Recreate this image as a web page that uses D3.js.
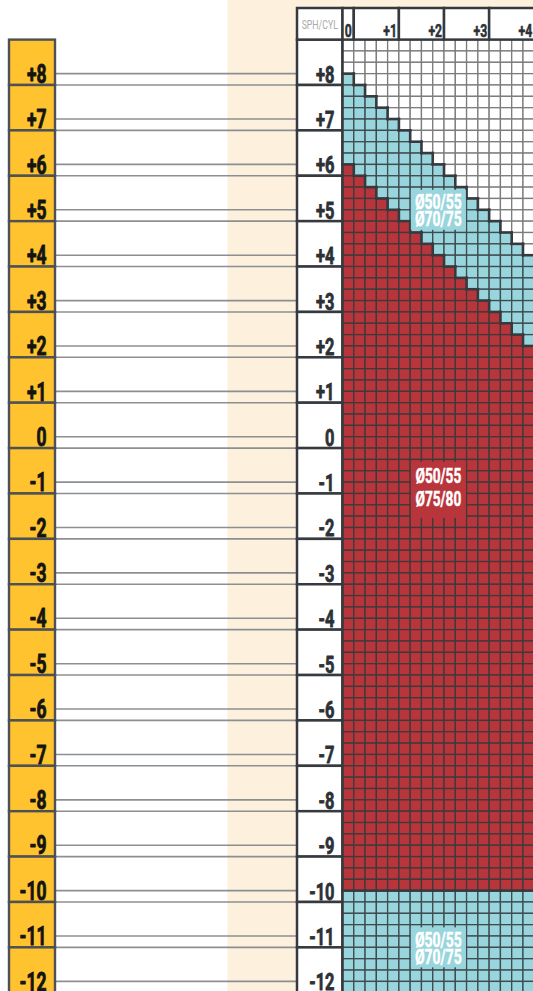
<!DOCTYPE html>
<html><head><meta charset="utf-8">
<script src="https://cdn.jsdelivr.net/npm/d3@7"></script>
<style>html,body{margin:0;padding:0;background:#fff;overflow:hidden;} svg{display:block;}</style>
</head><body><svg id="c" width="533" height="991"></svg>
<script>
// ---------- DATA ----------
const sphLabels = ["+8","+7","+6","+5","+4","+3","+2","+1","0","-1","-2","-3","-4","-5","-6","-7","-8","-9","-10","-11","-12"];
const sphValues = [8,7,6,5,4,3,2,1,0,-1,-2,-3,-4,-5,-6,-7,-8,-9,-10,-11,-12];
const cylLabels = ["0","+1","+2","+3","+4"];
const cylValues = [0,1,2,3,4];
// grid columns (cylinder in 0.25 steps)
const cylSteps = [0,0.25,0.5,0.75,1,1.25,1.5,1.75,2,2.25,2.5,2.75,3,3.25,3.5,3.75,4];
// highest sphere available in the Ø50/55 Ø70/75 zone, per column
const blueTopSph = [8,7.75,7.5,7.25,7,6.75,6.5,6.25,6,5.75,5.5,5.25,5,4.75,4.5,4.25,4];
// highest sphere available in the Ø50/55 Ø75/80 zone, per column
const redTopSph = [6,5.75,5.5,5.25,5,4.75,4.5,4.25,4,3.75,3.5,3.25,3,2.75,2.5,2.25,2];
// lowest sphere of the Ø50/55 Ø75/80 zone, per column
const redBottomSph = [-9.75,-9.75,-9.75,-9.75,-9.75,-9.75,-9.75,-9.75,-9.75,-9.75,-9.75,-9.75,-9.75,-9.75,-9.75,-9.75,-9.75];
// lowest sphere drawn of the lower Ø50/55 Ø70/75 zone
const blueBottomSph = [-12.25,-12.25,-12.25,-12.25,-12.25,-12.25,-12.25,-12.25,-12.25,-12.25,-12.25,-12.25,-12.25,-12.25,-12.25,-12.25,-12.25];
const zoneLabelLines = [["Ø50/55","Ø70/75"],["Ø50/55","Ø75/80"],["Ø50/55","Ø70/75"]];
const zoneLabelZone = ["blue","red","blue"];
const zoneLabelCyl = [2.125,2.125,2.125];
const zoneLabelSph = [5.0,-1.17,-11.25];

// ---------- LAYOUT ----------
const W = 533, H = 991;
const STEP = 0.25;
const gridTopSph = 8.75, gridBottomSph = -12.25;
const gridX0 = 342.5, cellW = 11.28;
const gridY0 = 39.6, cellH = 11.347;
const C = {
  beige:"#fdf0dc", yellow:"#fec32f", dark:"#363a3e", guide:"#8c8f92",
  red:"#b9353c", redLine:"#3e3a3a", blue:"#98d5dc", blueLine:"#3e4b50",
  white:"#ffffff", whiteLine:"#7c7c7c", labelDark:"#2d3135", header:"#aaaaaa"
};
const FONT = "Roboto, 'Liberation Sans', Arial, sans-serif";

const x = d3.scaleLinear().domain([0, STEP]).range([gridX0, gridX0 + cellW]);
const y = d3.scaleLinear().domain([gridTopSph, gridTopSph - STEP]).range([gridY0, gridY0 + cellH]);

const svg = d3.select("#c");

function ctext(sel, px, py, txt, o) {
  const g = sel.append("g").attr("transform", `translate(${px},${py}) scale(${o.sx},1)`);
  const t = g.append("text").attr("x",0).attr("y",0)
    .attr("text-anchor", o.anchor || "middle")
    .attr("font-family", FONT).attr("font-weight", o.weight || 700)
    .attr("font-size", o.size).attr("fill", o.fill);
  if (o.thick) t.attr("stroke", o.fill).attr("stroke-width", o.thick).attr("stroke-linejoin","round");
  if (Array.isArray(txt)) {
    txt.forEach((line, i) => t.append("tspan").attr("x",0).attr("y", o.lineY[i]).text(line));
  } else t.text(txt);
  return g;
}

// beige band / background
svg.append("rect").attr("x",227.5).attr("y",0).attr("width",W-227.5).attr("height",H).attr("fill",C.beige);

// guide lines (top and bottom of each whole-diopter row)
const guides = svg.append("g");
sphValues.forEach(s => {
  [y(s), y(s - STEP)].forEach(yy => {
    guides.append("line").attr("x1",55).attr("x2",297).attr("y1",yy).attr("y2",yy)
      .attr("stroke",C.guide).attr("stroke-width",1.6);
  });
});

// yellow sphere column
const yel = svg.append("g");
sphValues.forEach((s,i) => {
  const top = y(s + 0.75), bot = y(s - STEP);
  yel.append("rect").attr("x",9).attr("y",top).attr("width",46).attr("height",bot-top)
    .attr("fill",C.yellow).attr("stroke","#4d5155").attr("stroke-width",2.4);
  ctext(yel, 46.5, bot - 2.2, sphLabels[i], {size:25, sx:0.7, anchor:"end", fill:"#141414", thick:0.9});
});

// sphere label column next to grid
const sc = svg.append("g");
sphValues.forEach((s,i) => {
  const top = y(s + 0.75), bot = y(s - STEP);
  sc.append("rect").attr("x",297).attr("y",top).attr("width",gridX0-297).attr("height",bot-top)
    .attr("fill","#fff").attr("stroke",C.dark).attr("stroke-width",2.5);
  ctext(sc, 334.5, bot - 2.4, sphLabels[i], {size:23.5, sx:0.7, anchor:"end", fill:C.labelDark, thick:0.8});
});

// grid cells
const rowsSph = d3.range(Math.round((gridTopSph - gridBottomSph)/STEP) + 1).map(k => gridTopSph - k*STEP);
function cat(j, s) {
  if (j < 0 || j >= cylSteps.length) return "none";
  if (s > gridTopSph + 1e-9 || s < gridBottomSph - 1e-9) return "none";
  if (s > blueTopSph[j] + 1e-9) return "white";
  if (s > redTopSph[j] + 1e-9) return "blue";
  if (s >= redBottomSph[j] - 1e-9) return "red";
  if (s >= blueBottomSph[j] - 1e-9) return "blue";
  return "white";
}
const cells = [];
cylSteps.forEach((c,j) => rowsSph.forEach(s => cells.push({c, j, s, k: cat(j,s)})));
const fillOf = {white:C.white, blue:C.blue, red:C.red};
const lineOf = {white:C.whiteLine, blue:C.blueLine, red:C.redLine};
svg.append("g").selectAll("rect").data(cells).join("rect")
  .attr("x", d => x(d.c)).attr("y", d => y(d.s))
  .attr("width", cellW).attr("height", cellH)
  .attr("fill", d => fillOf[d.k]).attr("stroke", d => lineOf[d.k]).attr("stroke-width",1.3);

// zone boundaries
const bnd = svg.append("g").attr("stroke",C.dark).attr("stroke-width",2.6).attr("stroke-linecap","square");
cells.forEach(d => {
  const right = cat(d.j + 1, d.s);
  if (right !== "none" && right !== d.k) {
    bnd.append("line").attr("x1",x(d.c+STEP)).attr("x2",x(d.c+STEP)).attr("y1",y(d.s)).attr("y2",y(d.s-STEP));
  }
  const below = cat(d.j, d.s - STEP);
  if (below !== "none" && below !== d.k) {
    bnd.append("line").attr("x1",x(d.c)).attr("x2",x(d.c+STEP)).attr("y1",y(d.s-STEP)).attr("y2",y(d.s-STEP));
  }
});
// grid left edge
svg.append("line").attr("x1",gridX0).attr("x2",gridX0).attr("y1",gridY0).attr("y2",H)
  .attr("stroke",C.dark).attr("stroke-width",2.5);

// header
const hd = svg.append("g");
const hTop = 8, hBot = gridY0;
hd.append("rect").attr("x",297).attr("y",hTop).attr("width",gridX0-297).attr("height",hBot-hTop)
  .attr("fill","#fff").attr("stroke",C.dark).attr("stroke-width",2.5);
ctext(hd, (297+gridX0)/2, 29, "SPH/CYL", {size:12.5, sx:0.7, weight:400, fill:C.header});
cylValues.forEach((c,i) => {
  const x1 = c === 0 ? x(0) : x(c - 0.75), x2 = x(c + STEP);
  hd.append("rect").attr("x",x1).attr("y",hTop).attr("width",x2-x1).attr("height",hBot-hTop)
    .attr("fill","#fff").attr("stroke",C.dark).attr("stroke-width",2.5);
  ctext(hd, x2 - 2, 37.3, cylLabels[i], {size:18.5, sx:0.66, anchor:"end", fill:C.labelDark, thick:0.6});
});

// zone labels
const zl = svg.append("g");
zoneLabelLines.forEach((lines,i) => {
  const cx = x(zoneLabelCyl[i]), cy = y(zoneLabelSph[i]);
  const isRed = zoneLabelZone[i] === "red";
  const bw = 55, bh = isRed ? 56 : 40;
  zl.append("rect").attr("x",cx-bw/2).attr("y",cy-bh/2).attr("width",bw).attr("height",bh)
    .attr("fill", isRed ? C.red : C.blue);
  const offs = isRed ? [-6.5, 16] : [-0.5, 16.5];
  ctext(zl, cx, cy, lines, {size: isRed ? 19.5 : 20.5, sx: isRed ? 0.7 : 0.68, fill:"#ffffff", lineY: offs, thick:0.5});
});
</script></body></html>
